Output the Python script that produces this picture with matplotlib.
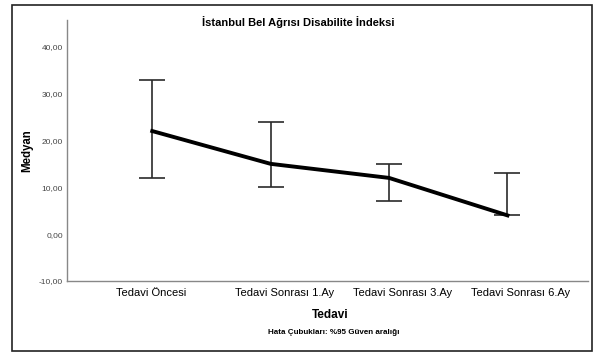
import matplotlib.pyplot as plt
from matplotlib.patches import Rectangle
from matplotlib.transforms import ScaledTranslation

# --- data --- #
groups = ["Tedavi Öncesi", "Tedavi Sonrası 1.Ay", "Tedavi Sonrası 3.Ay", "Tedavi Sonrası 6.Ay"]
medians = [22, 15, 12, 4]
ci_low = [12, 10, 7, 4]
ci_high = [33, 24, 15, 13]
y_ticks = [-10, 0, 10, 20, 30, 40]

plt.rcParams['font.family'] = ['Liberation Sans', 'DejaVu Sans']

fig = plt.figure(figsize=(5.95, 3.53), dpi=100)
ax = fig.add_axes([67/595, 1 - 281/353, (588-67)/595, (281-20)/353])

x = list(range(len(groups)))
err_lo = [m - l for m, l in zip(medians, ci_low)]
err_hi = [h - m for m, h in zip(medians, ci_high)]

ax.errorbar(x, medians, yerr=[err_lo, err_hi], fmt='none', ecolor='#2a2a2a',
            elinewidth=1.2, capsize=9.4, capthick=1.2, zorder=2)
ax.plot(x, medians, color='black', linewidth=2.8, zorder=3)

ax.set_xlim(-0.72, 3.68)
ax.set_ylim(-10, 45.7)
ax.set_xticks(x)
ax.set_xticklabels([])
# SPSS puts the category labels left-aligned a bit left of the point
lab_tr = ax.get_xaxis_transform() + ScaledTranslation(-36/100, -12/100, fig.dpi_scale_trans)
for xi, name in zip(x, groups):
    ax.text(xi, 0, name, transform=lab_tr, ha='left', va='center', fontsize=8, clip_on=False)

ax.set_yticks(y_ticks)
ax.set_yticklabels([f"{v:.2f}".replace('.', ',') for v in y_ticks], fontsize=6, color='#444444')
ax.tick_params(axis='y', length=0, pad=3)
ax.tick_params(axis='x', length=0)

for s in ['top', 'right']:
    ax.spines[s].set_visible(False)
for s in ['left', 'bottom']:
    ax.spines[s].set_color('#888888')
    ax.spines[s].set_linewidth(1.0)

fig.text(298/595, 1 - 22/353, "İstanbul Bel Ağrısı Disabilite İndeksi", ha='center', va='center',
         fontsize=8, fontweight='bold')
fig.text(27/595, 1 - 151/353, "Medyan", ha='center', va='center', rotation=90,
         fontsize=8.3, fontweight='bold')
fig.text(330/595, 1 - 315/353, "Tedavi", ha='center', va='center', fontsize=8.5, fontweight='bold')
fig.text(334/595, 1 - 332/353, "Hata Çubukları: %95 Güven aralığı", ha='center', va='center',
         fontsize=5.75, fontweight='bold')

# outer frame
fig.patches.append(Rectangle((12/595, 2/353), (592-12)/595, (350-4)/353, transform=fig.transFigure,
                             fill=False, edgecolor='#222222', linewidth=1.2))

fig.savefig("out.png", dpi=100)
